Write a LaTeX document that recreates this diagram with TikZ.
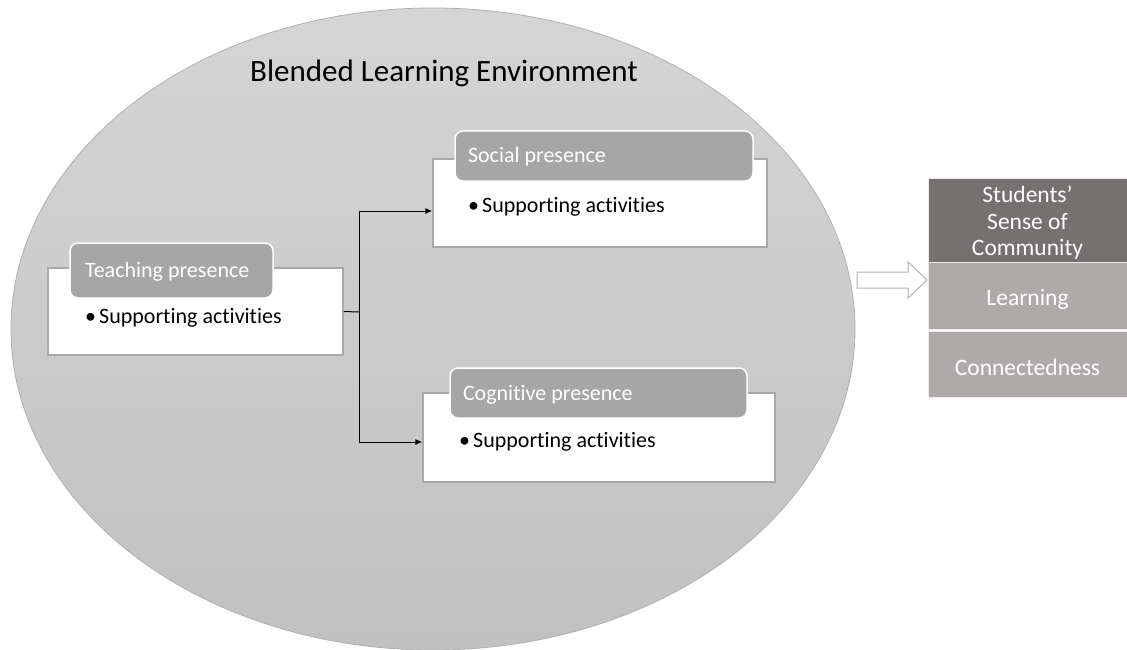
\documentclass[tikz,border=0pt]{standalone}
\usepackage{fontspec}
\setmainfont{Carlito}[RawFeature={-liga}]
\usetikzlibrary{arrows.meta,calc}
\definecolor{elltop}{HTML}{D5D5D5}
\definecolor{ellbot}{HTML}{C1C1C1}
\definecolor{ellborder}{HTML}{B0B0B0}
\definecolor{headfill}{HTML}{A6A6A6}
\definecolor{boxborder}{HTML}{A9A9A9}
\definecolor{darkbox}{HTML}{767171}
\definecolor{midbox}{HTML}{AEAAAA}
\definecolor{arrowline}{HTML}{B4B4B4}
\tikzset{
  whitebox/.style={draw=boxborder, line width=1.5pt, fill=white, inner sep=0pt},
  headbox/.style={draw=white, line width=1.5pt, fill=headfill, rounded corners=8pt,
    text=white, align=flush left, inner ysep=0pt, text height=17pt, text depth=3pt,
    font=\fontsize{22}{24}\selectfont},
  bullettext/.style={anchor=west, inner sep=0pt, font=\fontsize{22}{24}\selectfont},
  stackbox/.style={draw=white!85!gray, line width=0.8pt, inner sep=0pt,
    minimum width=199pt},
  stacktext/.style={inner sep=0pt, text=white, align=center,
    font=\fontsize{23.5}{26.5}\selectfont},
  link/.style={line width=1pt, black},
  linkarrow/.style={link, -{Latex[length=7pt,width=6pt]}}
}
\newcommand{\bulletitem}[1]{\makebox[14pt][l]{•}#1}
\begin{document}
\begin{tikzpicture}[x=1pt,y=-1pt]
\useasboundingbox (0,0) rectangle (1127,650);
% ellipse background
\shade[top color=elltop, bottom color=ellbot] (433,329) ellipse [x radius=422, y radius=321];
\draw[ellborder, line width=0.8pt] (433,329) ellipse [x radius=422, y radius=321];
\node[font=\fontsize{31}{36}\selectfont, inner sep=0pt] (title) at (444,73) {Blended Learning Environment};

% Teaching presence
\node[whitebox, minimum width=295pt, minimum height=87pt] (teach) at (195.5,311.5) {};
\node[headbox, minimum height=55pt, text width=173pt, inner xsep=15pt] (teachh) at (171.5,270.5) {Teaching presence};
\node[bullettext] (teachb) at (85,318) {\bulletitem{Supporting activities}};

% Social presence
\node[whitebox, minimum width=334pt, minimum height=88pt] (social) at (600,203) {};
\node[headbox, minimum height=50pt, text width=272pt, inner xsep=13pt] (socialh) at (604,156) {Social presence};
\node[bullettext] (socialb) at (468,207) {\bulletitem{Supporting activities}};

% Cognitive presence
\node[whitebox, minimum width=352pt, minimum height=89pt] (cogn) at (599,437.5) {};
\node[headbox, minimum height=50pt, text width=271pt, inner xsep=13pt] (cognh) at (598.5,393) {Cognitive presence};
\node[bullettext] (cognb) at (459,442) {\bulletitem{Supporting activities}};

% connectors
\coordinate (split) at (359,312);
\draw[link] (teach.east) -- (split);
\draw[linkarrow] (split) |- ([yshift=-8pt]social.west);
\draw[linkarrow] (split) |- ([yshift=-4.5pt]cogn.west);

% right stack
\node[stackbox, fill=darkbox, minimum height=84pt] (sense) at (1027.5,220) {};
\node[stackbox, fill=midbox, minimum height=67pt] (learn) at (1027.5,295.5) {};
\node[stackbox, fill=midbox, minimum height=66pt] (conn) at (1027.5,364) {};
\node[stacktext] (senset) at ([yshift=-3pt]sense.center) {Students’\\Sense of\\Community};
\node[stacktext] (learnt) at ([yshift=-4pt]learn.center) {Learning};
\node[stacktext] (connt) at ([yshift=-3pt]conn.center) {Connectedness};

% hollow block arrow
\draw[arrowline, fill=white, line width=1pt, line join=miter]
  (857,272) -- (908,272) -- (908,262) -- (927,280) -- (908,298) -- (908,288) -- (857,288) -- cycle;
\end{tikzpicture}
\end{document}
